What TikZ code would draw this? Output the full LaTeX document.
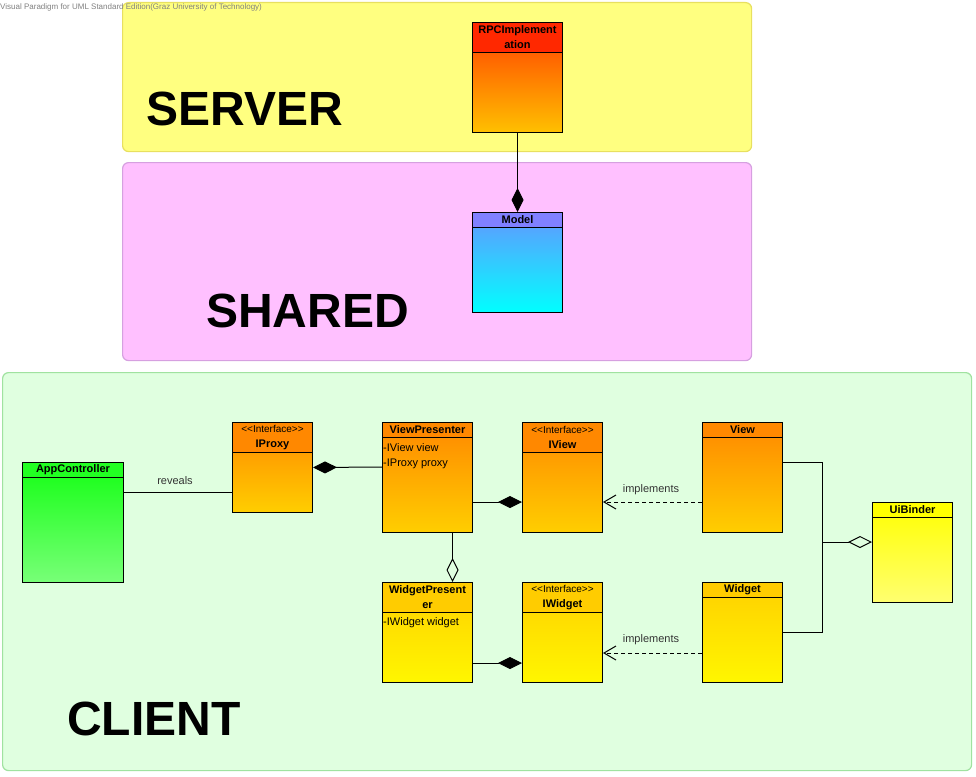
\documentclass[tikz,border=0pt]{standalone}
\usepackage{fontspec}
\setmainfont{Liberation Sans}
\usetikzlibrary{arrows.meta}

\definecolor{serverfill}{RGB}{255,255,128}
\definecolor{serverline}{RGB}{232,224,96}
\definecolor{sharedfill}{RGB}{255,192,255}
\definecolor{sharedline}{RGB}{214,160,224}
\definecolor{clientfill}{RGB}{224,255,224}
\definecolor{clientline}{RGB}{160,226,160}
\definecolor{rpchead}{RGB}{255,40,0}
\definecolor{rpctop}{RGB}{255,60,0}
\definecolor{rpcbot}{RGB}{255,192,0}
\definecolor{modelhead}{RGB}{128,128,255}
\definecolor{modeltop}{RGB}{100,150,255}
\definecolor{modelbot}{RGB}{0,255,255}
\definecolor{apphead}{RGB}{34,255,34}
\definecolor{apptop}{RGB}{20,255,20}
\definecolor{appbot}{RGB}{120,255,120}
\definecolor{orghead}{RGB}{255,136,0}
\definecolor{orgtop}{RGB}{255,136,0}
\definecolor{orgbot}{RGB}{255,206,0}
\definecolor{ylwhead}{RGB}{255,204,0}
\definecolor{ylwtop}{RGB}{255,208,0}
\definecolor{ylwbot}{RGB}{255,246,0}
\definecolor{binderhead}{RGB}{255,255,0}
\definecolor{bindertop}{RGB}{255,255,0}
\definecolor{binderbot}{RGB}{255,255,112}

\tikzset{>=latex,
  panel/.style={anchor=north west,rounded corners=6pt,line width=1.2pt,inner sep=0pt},
  region/.style={anchor=base west,inner sep=0pt,font=\fontsize{48}{50}\selectfont\bfseries},
  cls/.style={draw=black,line width=1pt,inner sep=0pt,anchor=north west},
  hdr/.style={draw=black,line width=1pt,inner sep=0pt,anchor=north,align=center,
    font=\fontsize{11}{15}\selectfont\bfseries},
  attr/.style={anchor=north west,inner sep=1pt,align=left,font=\fontsize{11}{15}\selectfont},
  lbl/.style={inner sep=0pt,text=black!80,font=\fontsize{11}{12}\selectfont},
  comp/.style={draw,line width=1pt,-{Diamond[length=24pt,width=12pt]}},
  agg/.style={draw,line width=1pt,-{Diamond[open,length=24pt,width=12pt]}},
  impl/.style={draw,line width=1pt,dash pattern=on 4pt off 3pt,-{Straight Barb[length=12pt,width=14pt]}}
}
\newcommand{\stereo}{{\fontsize{10}{15}\selectfont\mdseries <{}<Interface>{}>}}

\begin{document}
\begin{tikzpicture}[x=1pt,y=-1pt]
\useasboundingbox (0,0) rectangle (976,776);
% packages
\node[panel,fill=serverfill,draw=serverline,minimum width=629pt,minimum height=149pt] (server) at (122,2) {};
\node[panel,fill=sharedfill,draw=sharedline,minimum width=629pt,minimum height=198pt] (shared) at (122,162) {};
\node[panel,fill=clientfill,draw=clientline,minimum width=969pt,minimum height=398pt] (client) at (2,372) {};
\node[anchor=base west,inner sep=0pt,text=black!50,font=\fontsize{8}{9}\selectfont] (vpmark) at (0,10) {Visual Paradigm for UML Standard Edition(Graz University of Technology)};
\node[region] (servername) at (146,125) {SERVER};
\node[region] (sharedname) at (206,327) {SHARED};
\node[region] (clientname) at (67,735) {CLIENT};
% server and shared
\node[cls,top color=rpctop,bottom color=rpcbot,minimum width=90pt,minimum height=110pt] (rpc) at (472,22) {};
\node[hdr,fill=rpchead,minimum width=90pt,minimum height=30pt] (rpchdr) at (rpc.north) {RPCImplement\\ation};
\node[cls,top color=modeltop,bottom color=modelbot,minimum width=90pt,minimum height=100pt] (model) at (472,212) {};
\node[hdr,fill=modelhead,minimum width=90pt,minimum height=15pt] (modelhdr) at (model.north) {Model};
% client
\node[cls,top color=apptop,bottom color=appbot,minimum width=101pt,minimum height=120pt] (appctrl) at (22,462) {};
\node[hdr,fill=apphead,minimum width=101pt,minimum height=15pt] (appctrlhdr) at (appctrl.north) {AppController};
\node[cls,top color=orgtop,bottom color=orgbot,minimum width=80pt,minimum height=90pt] (iproxy) at (232,422) {};
\node[hdr,fill=orghead,minimum width=80pt,minimum height=30pt] (iproxyhdr) at (iproxy.north) {\stereo\\IProxy};
\node[cls,top color=orgtop,bottom color=orgbot,minimum width=90pt,minimum height=110pt] (vp) at (382,422) {};
\node[hdr,fill=orghead,minimum width=90pt,minimum height=15pt] (vphdr) at (vp.north) {ViewPresenter};
\node[attr] (vpattr) at ([yshift=-4pt]vphdr.south west) {-IView view\\-IProxy proxy};
\node[cls,top color=orgtop,bottom color=orgbot,minimum width=80pt,minimum height=110pt] (iview) at (522,422) {};
\node[hdr,fill=orghead,minimum width=80pt,minimum height=30pt] (iviewhdr) at (iview.north) {\stereo\\IView};
\node[cls,top color=orgtop,bottom color=orgbot,minimum width=80pt,minimum height=110pt] (view) at (702,422) {};
\node[hdr,fill=orghead,minimum width=80pt,minimum height=15pt] (viewhdr) at (view.north) {View};
\node[cls,top color=ylwtop,bottom color=ylwbot,minimum width=90pt,minimum height=100pt] (wp) at (382,582) {};
\node[hdr,fill=ylwhead,minimum width=90pt,minimum height=30pt] (wphdr) at (wp.north) {WidgetPresent\\er};
\node[attr] (wpattr) at ([yshift=-3pt]wphdr.south west) {-IWidget widget};
\node[cls,top color=ylwtop,bottom color=ylwbot,minimum width=80pt,minimum height=100pt] (iwidget) at (522,582) {};
\node[hdr,fill=ylwhead,minimum width=80pt,minimum height=30pt] (iwidgethdr) at (iwidget.north) {\stereo\\IWidget};
\node[cls,top color=ylwtop,bottom color=ylwbot,minimum width=80pt,minimum height=100pt] (widget) at (702,582) {};
\node[hdr,fill=ylwhead,minimum width=80pt,minimum height=15pt] (widgethdr) at (widget.north) {Widget};
\node[cls,top color=bindertop,bottom color=binderbot,minimum width=80pt,minimum height=100pt] (uibinder) at (872,502) {};
\node[hdr,fill=binderhead,minimum width=80pt,minimum height=15pt] (uibinderhdr) at (uibinder.north) {UiBinder};
\coordinate (join) at (822,542);
% connectors
\path[comp] (rpc.south) -- (model.north);
\draw[line width=1pt] ([yshift=-30pt]appctrl.north east) -- ([yshift=-70pt]iproxy.north west);
\node[lbl] (reveals) at (175,481) {reveals};
\path[comp] ([yshift=-45pt]vp.north west) -- (iproxy.east);
\path[comp] ([yshift=-80pt]vp.north east) -- ([yshift=-80pt]iview.north west);
\path[impl] ([yshift=-80pt]view.north west) -- ([yshift=-80pt]iview.north east);
\node[lbl] (impl1) at (651,490) {implements};
\path[agg] ([xshift=25pt]vp.south) -- ([xshift=25pt]wp.north);
\path[comp] ([yshift=20pt]wp.south east) -- ([yshift=20pt]iwidget.south west);
\path[impl] ([yshift=30pt]widget.south west) -- ([yshift=30pt]iwidget.south east);
\node[lbl] (impl2) at (651,640) {implements};
\draw[line width=1pt] ([yshift=-40pt]view.north east) -| (join);
\draw[line width=1pt] (widget.east) -| (join);
\path[agg] (join) -- (join -| uibinder.west);
\end{tikzpicture}
\end{document}
